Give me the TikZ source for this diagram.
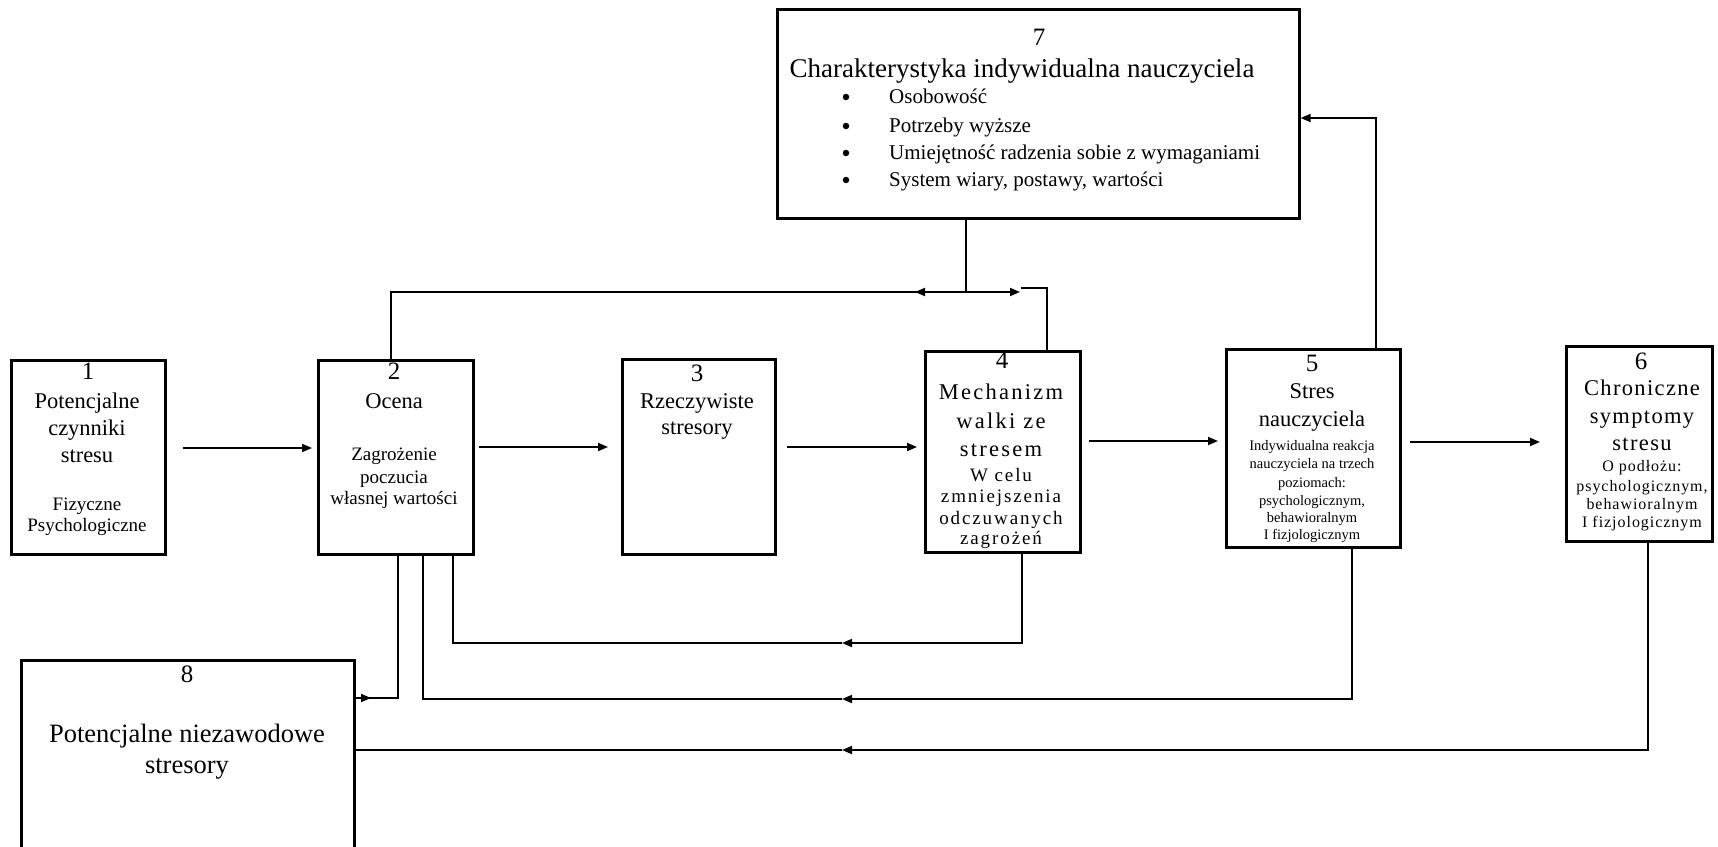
\documentclass[tikz,border=0pt]{standalone}
\usepackage{fontspec}
\setmainfont{Liberation Serif}
\newfontfamily\spA[LetterSpace=10]{Liberation Serif}
\newfontfamily\spB[LetterSpace=6]{Liberation Serif}
\usetikzlibrary{arrows.meta,calc}
\newcommand\fN{\fontsize{25}{28}\selectfont}
\newcommand\fB{\fontsize{22.5}{27}\selectfont}
\newcommand\fM{\fontsize{19}{22}\selectfont}
\newcommand\fS{\fontsize{14.5}{18}\selectfont}
\newcommand\fR{\fontsize{16}{18}\selectfont}
\newcommand\fT{\fontsize{27}{30}\selectfont}
\newcommand\fL{\fontsize{21}{24}\selectfont}
\newcommand\fE{\fontsize{26.5}{30}\selectfont}
\begin{document}
\begin{tikzpicture}[x=1pt,y=-1pt,
  box/.style={draw,line width=2.6pt,inner sep=0pt,anchor=north west},
  con/.style={line width=1.8pt},
  tip/.style={-{Triangle[length=10pt,width=8pt]}},
  ln/.style={inner sep=0pt,text height=0.7em,text depth=0pt,anchor=center},
  dot/.style={circle,fill,inner sep=0pt,minimum size=6.5pt}]
\useasboundingbox (0,0) rectangle (1718,846);
% boxes
\node[box,minimum width=154pt,minimum height=194pt] (b1) at (10,359) {};
\node[box,minimum width=155pt,minimum height=194pt] (b2) at (317,359) {};
\node[box,minimum width=153pt,minimum height=195pt] (b3) at (621,358) {};
\node[box,minimum width=155pt,minimum height=201pt] (b4) at (924,350) {};
\node[box,minimum width=174pt,minimum height=198pt] (b5) at (1225,348) {};
\node[box,minimum width=146pt,minimum height=195pt] (b6) at (1565,345) {};
\node[box,minimum width=522pt,minimum height=209pt] (b7) at (776,8) {};
\begin{scope}
\clip (0,0) rectangle (1718,846);
\node[box,minimum width=333pt,minimum height=220pt] (b8) at (20,659) {};
\end{scope}
% numbers
\node[ln,font=\fN] (n1) at (88,376) {1};
\node[ln,font=\fN] (n2) at (394,376) {2};
\node[ln,font=\fN] (n3) at (697,378) {3};
\node[ln,font=\fN] (n4) at (1002,365) {4};
\node[ln,font=\fN] (n5) at (1312,368) {5};
\node[ln,font=\fN] (n6) at (1641,366) {6};
\node[ln,font=\fN] (n7) at (1039,42) {7};
\node[ln,font=\fN] (n8) at (187,679) {8};
% texts box 1
\foreach \t/\y [count=\i] in {Potencjalne/405,czynniki/432,stresu/459}
  \node[ln,font=\fB] (ta\i) at (87,\y) {\t};
\foreach \t/\y [count=\i] in {Fizyczne/507,Psychologiczne/528}
  \node[ln,font=\fM] (tb\i) at (87,\y) {\t};
% box 2
\node[ln,font=\fB] (tc) at (394,405) {Ocena};
\foreach \t/\y [count=\i] in {Zagrożenie/457,poczucia/480,własnej wartości/501}
  \node[ln,font=\fM] (td\i) at (394,\y) {\t};
% box 3
\foreach \t/\y [count=\i] in {Rzeczywiste/405,stresory/431}
  \node[ln,font=\fB] (te\i) at (697,\y) {\t};
% box 4
\foreach \t/\y [count=\i] in {Mechanizm/396,walki ze/425,stresem/453}
  \node[ln,font={\spA\fB}] (tf\i) at (1001,\y) {\t};
\foreach \t/\y [count=\i] in {W celu/478,zmniejszenia/499,odczuwanych/521,zagrożeń/541}
  \node[ln,font={\spA\fM}] (tg\i) at (1001,\y) {\t};
% box 5
\foreach \t/\y [count=\i] in {Stres/395,nauczyciela/423}
  \node[ln,font=\fB] (th\i) at (1312,\y) {\t};
\foreach \t/\y [count=\i] in {Indywidualna reakcja/447,nauczyciela na trzech/465,poziomach:/484,{psychologicznym,}/502,behawioralnym/519,I fizjologicznym/536}
  \node[ln,font=\fS] (ti\i) at (1312,\y) {\t};
% box 6
\foreach \t/\y [count=\i] in {Chroniczne/392,symptomy/420,stresu/447}
  \node[ln,font={\spB\fB}] (tj\i) at (1642,\y) {\t};
\foreach \t/\y [count=\i] in {O podłożu:/468,{psychologicznym,}/488,behawioralnym/506,I fizjologicznym/524}
  \node[ln,font={\spB\fR}] (tk\i) at (1642,\y) {\t};
% box 7
\node[ln,font=\fT] (tm) at (1022,74) {Charakterystyka indywidualna nauczyciela};
\foreach \t/\y [count=\i] in {Osobowość/100,Potrzeby wyższe/129,Umiejętność radzenia sobie z wymaganiami/156,{System wiary, postawy, wartości}/183}{
  \node[dot] (d\i) at (846,\y-3) {};
  \node[ln,font=\fL,anchor=west] (u\i) at (889,\y) {\t};
}
% box 8
\node[ln,font=\fE] (to) at (187,739) {Potencjalne niezawodowe};
\node[ln,font=\fE] (tp) at (187,770) {stresory};
% main chain
\draw[con,tip,shorten <=16pt,shorten >=5pt] (b1.east |- 0,448) -- (b2.west |- 0,448);
\draw[con,tip,shorten <=4pt,shorten >=13pt] (b2.east |- 0,447) -- (b3.west |- 0,447);
\draw[con,tip,shorten <=10pt,shorten >=7pt] (b3.east |- 0,447) -- (b4.west |- 0,447);
\draw[con,tip,shorten <=7pt,shorten >=7pt] (b4.east |- 0,441) -- (b5.west |- 0,441);
\draw[con,tip,shorten <=8pt,shorten >=25pt] (b5.east |- 0,442) -- (b6.west |- 0,442);
% 5 -> 7
\draw[con,tip] (b5.north -| 1376,0) |- (b7.east |- 0,118);
% 7 -> 2 and 4
\coordinate (j7) at (966,292);
\coordinate (jl) at (915,292);
\coordinate (jr) at (1020,292);
\coordinate (k4) at (1021,288);
\draw[con] (b2.north -| 391,0) |- (j7);
\draw[con] (b4.north -| 1047,0) |- (k4);
\draw[con] (b7.south -| 966,0) -- (j7);
\draw[con,tip] (j7) -- (jl);
\draw[con,tip] (j7) -- (jr);
% feedback lines
\coordinate (m4) at (842,643);
\coordinate (m5) at (842,699);
\coordinate (m6) at (842,750);
\draw[con,tip] (b4.south -| 1022,0) |- (m4);
\draw[con] (m4) -| (b2.south -| 453,0);
\draw[con,tip] (b5.south -| 1352,0) |- (m5);
\draw[con] (m5) -| (b2.south -| 423,0);
\draw[con,tip] (b6.south -| 1648,0) |- (m6);
\draw[con] (m6) -- (b8.east |- m6);
\coordinate (q8) at (371,698);
\draw[con] (b2.south -| 398,0) |- (b8.east |- q8);
\draw[con,tip] (b8.east |- q8) -- (q8);
\end{tikzpicture}
\end{document}
